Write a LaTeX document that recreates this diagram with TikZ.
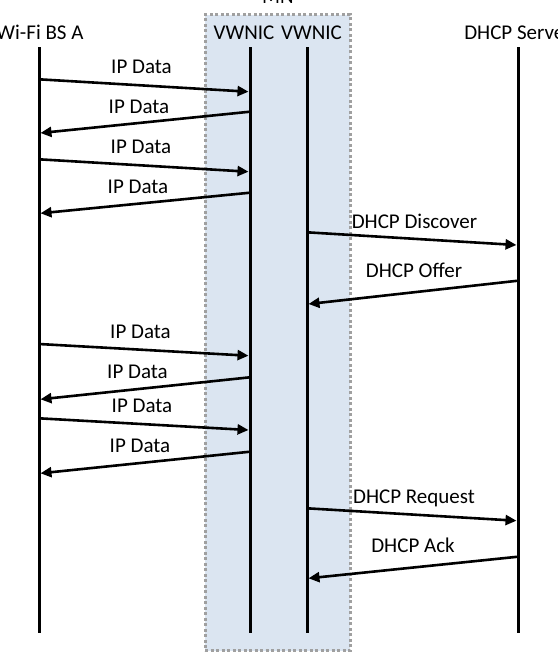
\documentclass[tikz,border=0pt]{standalone}
\usepackage{fontspec}
\setmainfont{Carlito}
\usetikzlibrary{arrows.meta}
\definecolor{mnfill}{HTML}{DBE5F1}
\definecolor{mnedge}{HTML}{A0A0A0}
\begin{document}
\begin{tikzpicture}[x=1pt,y=-1pt,
  every node/.style={font=\fontsize{21}{25}\selectfont, inner sep=0pt, text=black},
  lifeline/.style={line width=3pt, black},
  msg/.style={line width=2.6pt, black, -{Triangle[length=11pt,width=10pt]}},
  lbl/.style={anchor=base},
  head/.style={anchor=base},
  mnbox/.style={fill=mnfill, draw=mnedge, line width=3pt, dash pattern=on 3pt off 2.5pt}]
\useasboundingbox (0,0) rectangle (557,656);
% MN box
\node[mnbox, minimum width=145pt, minimum height=636pt, anchor=north west] (mn) at (203.5,13) {};
\node[head] (mnlbl) at (278,3) {MN};
% headers
\node[head] (hbs) at (40,39.5) {Wi-Fi BS A};
\node[head] (hv1) at (244,39.5) {VWNIC};
\node[head] (hv2) at (311.5,39.5) {VWNIC};
\node[head] (hdh) at (518,39.5) {DHCP Server};
% lifelines
\coordinate (bsT) at (39,47);  \coordinate (bsB) at (39,633);
\coordinate (v1T) at (250,47); \coordinate (v1B) at (250,633);
\coordinate (v2T) at (307,47); \coordinate (v2B) at (307,633);
\coordinate (dhT) at (518,47); \coordinate (dhB) at (518,633);
\draw[lifeline] (bsT) -- (bsB);
\draw[lifeline] (v1T) -- (v1B);
\draw[lifeline] (v2T) -- (v2B);
\draw[lifeline] (dhT) -- (dhB);
% message end points
\coordinate (m1s) at (39,79.3);   \coordinate (m1e) at (248.5,91.7);
\coordinate (m2s) at (250,111.7); \coordinate (m2e) at (40.5,133);
\coordinate (m3s) at (39,159.3);  \coordinate (m3e) at (248.5,171.7);
\coordinate (m4s) at (250,192.7); \coordinate (m4e) at (40.5,213.3);
\coordinate (m5s) at (307,232.3); \coordinate (m5e) at (516.5,245);
\coordinate (m6s) at (518,280.7); \coordinate (m6e) at (308.5,304);
\coordinate (m7s) at (39,344);    \coordinate (m7e) at (248.5,355.7);
\coordinate (m8s) at (250,377.3); \coordinate (m8e) at (40.5,399.3);
\coordinate (m9s) at (39,418.3);  \coordinate (m9e) at (248.5,430);
\coordinate (m10s) at (250,451.7); \coordinate (m10e) at (40.5,473.3);
\coordinate (m11s) at (307,508.3); \coordinate (m11e) at (516.5,520.7);
\coordinate (m12s) at (518,556.7); \coordinate (m12e) at (308.5,578.3);
\draw[msg] (m1s) -- (m1e);
\draw[msg] (m2s) -- (m2e);
\draw[msg] (m3s) -- (m3e);
\draw[msg] (m4s) -- (m4e);
\draw[msg] (m5s) -- (m5e);
\draw[msg] (m6s) -- (m6e);
\draw[msg] (m7s) -- (m7e);
\draw[msg] (m8s) -- (m8e);
\draw[msg] (m9s) -- (m9e);
\draw[msg] (m10s) -- (m10e);
\draw[msg] (m11s) -- (m11e);
\draw[msg] (m12s) -- (m12e);
% labels
\node[lbl] (l1) at (141.5,73) {IP Data};
\node[lbl] (l2) at (139,113.3) {IP Data};
\node[lbl] (l3) at (141,153) {IP Data};
\node[lbl] (l4) at (138,193) {IP Data};
\node[lbl] (l5) at (414.5,228) {DHCP Discover};
\node[lbl] (l6) at (414,277) {DHCP Offer};
\node[lbl] (l7) at (140.5,338) {IP Data};
\node[lbl] (l8) at (137.5,378) {IP Data};
\node[lbl] (l9) at (142,412.3) {IP Data};
\node[lbl] (l10) at (140,452.3) {IP Data};
\node[lbl] (l11) at (414,503) {DHCP Request};
\node[lbl] (l12) at (413,552.3) {DHCP Ack};
\end{tikzpicture}
\end{document}
